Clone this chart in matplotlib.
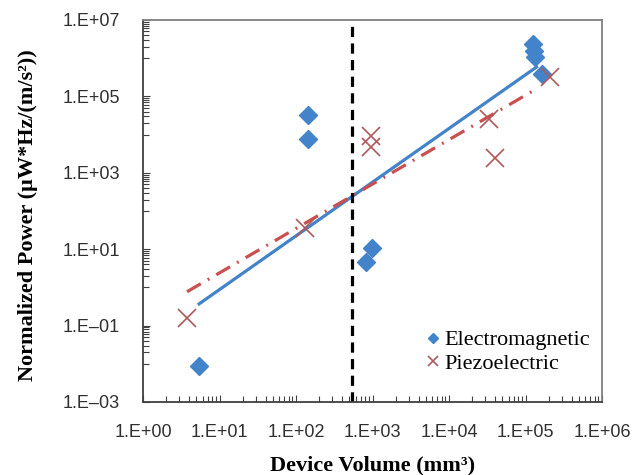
import matplotlib.pyplot as plt
import matplotlib.ticker as mticker
import numpy as np

# electromagnetic harvesters (blue diamonds)
em_volume = [5.4, 145, 145, 980, 825, 1.26e5, 1.3e5, 1.35e5, 1.65e5]
em_power = [0.009, 3.2e4, 7.5e3, 11, 4.5, 2.3e6, 1.55e6, 1.07e6, 3.8e5]

# piezoelectric harvesters (crosses)
pz_volume = [3.8, 131, 955, 955, 3.3e4, 4.0e4, 2.1e5]
pz_power = [0.16, 35, 9.1e3, 4.6e3, 2.5e4, 2.5e3, 3.2e5]

# trend line end points
em_trend_x = [5.2, 1.45e5]
em_trend_y = [0.35, 6.2e5]
pz_trend_x = [3.76, 1.45e5]
pz_trend_y = [0.77, 1.65e5]

cutoff_volume = 540

x_ticks = [1e0, 1e1, 1e2, 1e3, 1e4, 1e5, 1e6]
x_labels = ['1.E+00', '1.E+01', '1.E+02', '1.E+03', '1.E+04', '1.E+05', '1.E+06']
y_ticks = [1e-3, 1e-1, 1e1, 1e3, 1e5, 1e7]
y_labels = ['1.E\u201303', '1.E\u201301', '1.E+01', '1.E+03', '1.E+05', '1.E+07']

blue = '#4383c9'
red = '#c9504f'
cross = '#b0585a'
serif = ['Liberation Serif', 'DejaVu Serif']
sans = ['Liberation Sans', 'DejaVu Sans']

fig = plt.figure(figsize=(6.44, 4.75), dpi=100)
ax = fig.add_axes([143 / 644, 1 - 402 / 475, 459 / 644, 382 / 475])

ax.plot(em_trend_x, em_trend_y, color=blue, lw=2.3, solid_capstyle='butt')
ax.plot(pz_trend_x, pz_trend_y, color=red, lw=2.3, dashes=(5, 2.5, 0.6, 2.5))
ax.axvline(cutoff_volume, color='black', lw=2.3, dashes=(3.2, 2))

ax.plot(em_volume, em_power, 'D', color=blue, ms=9, mec=blue, ls='none', label='Electromagnetic')
ax.plot(pz_volume, pz_power, 'x', color=cross, ms=13, mew=1.2, ls='none', label='Piezoelectric')

ax.set_xscale('log')
ax.set_yscale('log')
ax.set_xlim(1, 1e6)
ax.set_ylim(1e-3, 1e7)

ax.xaxis.set_major_locator(mticker.FixedLocator(x_ticks))
ax.xaxis.set_major_formatter(mticker.FixedFormatter(x_labels))
ax.xaxis.set_minor_locator(mticker.LogLocator(base=10, subs=np.arange(2, 10)))
ax.xaxis.set_minor_formatter(mticker.NullFormatter())

ax.yaxis.set_major_locator(mticker.FixedLocator(y_ticks))
ax.yaxis.set_major_formatter(mticker.FixedFormatter(y_labels))
y_minor = [k * 10.0 ** e for e in (-2, 0, 2, 4, 6) for k in range(1, 10)]
ax.yaxis.set_minor_locator(mticker.FixedLocator(y_minor))
ax.yaxis.set_minor_formatter(mticker.NullFormatter())

ax.tick_params(which='both', direction='in', color='#404040', width=0.8)
ax.tick_params(which='major', length=5)
ax.tick_params(which='minor', length=4)
ax.tick_params(axis='y', which='major', pad=16.5)
ax.tick_params(axis='x', which='major', pad=16)
for lab in ax.get_xticklabels() + ax.get_yticklabels():
    lab.set_family(sans)
    lab.set_fontsize(13)
    lab.set_color('#303030')

for side in ['left', 'bottom']:
    ax.spines[side].set_color('#404040')
    ax.spines[side].set_linewidth(1.3)
for side in ['top', 'right']:
    ax.spines[side].set_color('#7f7f7f')
    ax.spines[side].set_linewidth(1.3)

ax.set_xlabel('Device Volume (mm\u00b3)', family=serif, fontsize=16, fontweight='bold')
ax.set_ylabel('Normalized Power (\u00b5W*Hz/(m/s\u00b2))', family=serif, fontsize=16,
              fontweight='bold')
ax.xaxis.set_label_coords(0.5, -0.139)
ax.yaxis.set_label_coords(-0.229, 0.49)

leg = ax.legend(loc='upper left', frameon=False, prop={'family': serif, 'size': 16},
                handletextpad=0.1, handlelength=0.8, borderaxespad=0, borderpad=0,
                labelspacing=0.15, markerscale=0.6, bbox_to_anchor=(0.613, 0.189))

fig.savefig('out.png', dpi=100)
